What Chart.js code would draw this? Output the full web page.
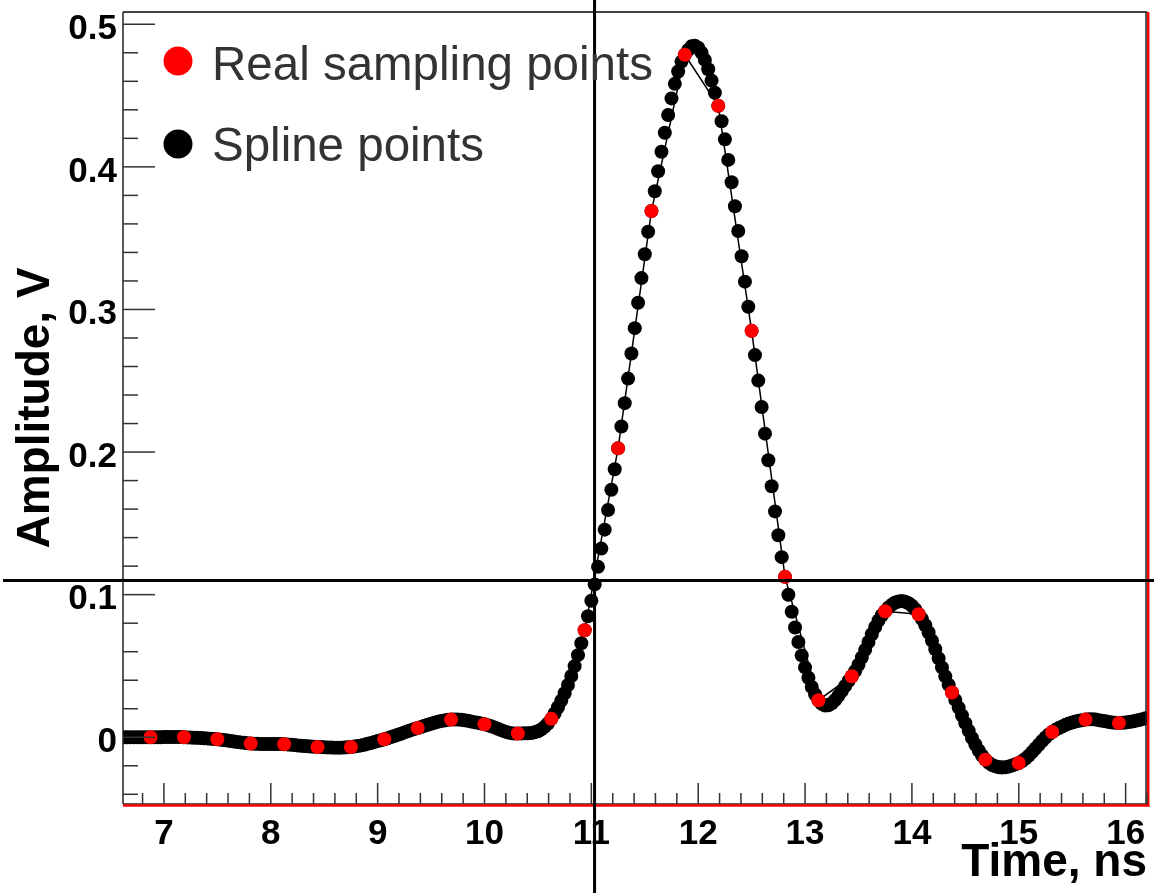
<!DOCTYPE html>
<html>
<head>
<meta charset="utf-8">
<script src="https://cdn.jsdelivr.net/npm/chart.js@4.4.7/dist/chart.umd.min.js"></script>
<style>
  html, body { margin: 0; padding: 0; background: #fff; }
  #wrap { width: 1154px; height: 893px; }
</style>
</head>
<body>
<div id="wrap"><canvas id="chart" width="1154" height="893"></canvas></div>
<script>
// real samples, 3.2 GS/s
const sampleTimes = [
  6.875, 7.1875, 7.5, 7.8125, 8.125, 8.4375, 8.75, 9.0625, 9.375, 9.6875,
  10.0, 10.3125, 10.625, 10.9375, 11.25, 11.5625, 11.875, 12.1875, 12.5, 12.8125,
  13.125, 13.4375, 13.75, 14.0625, 14.375, 14.6875, 15.0, 15.3125, 15.625, 15.9375
];
const sampleAmps = [
  0.0000, 0.0000, -0.0014, -0.0044, -0.0049, -0.0068, -0.0068, -0.0014, 0.0065, 0.0124,
  0.0091, 0.0026, 0.0129, 0.0750, 0.2026, 0.3690, 0.4786, 0.4428, 0.2850, 0.1125,
  0.0260, 0.0428, 0.0884, 0.0863, 0.0314, -0.0157, -0.0180, 0.0037, 0.0124, 0.0100
];

// spline points, one every 0.03125 ns starting at 6.625 ns
const splineStart = 6.625;
const splineStep = 0.03125;
const splineAmps = [
  0, 0, 0, 0, 0, 0, 0, 0,
  0, 0, 0, 0, 0.0001, 0.0001, 0.0001, 0.0001, 0.0001, 0.0001,
  0, -0.0001, -0.0002, -0.0003, -0.0004, -0.0005, -0.0007, -0.0008, -0.0010, -0.0012,
  -0.0014, -0.0017, -0.0019, -0.0023, -0.0026, -0.0030, -0.0033, -0.0036, -0.0039, -0.0042,
  -0.0044, -0.0046, -0.0046, -0.0047, -0.0047, -0.0047, -0.0047, -0.0047, -0.0048, -0.0048,
  -0.0049, -0.0050, -0.0052, -0.0054, -0.0057, -0.0059, -0.0061, -0.0063, -0.0065, -0.0067,
  -0.0068, -0.0069, -0.0070, -0.0071, -0.0072, -0.0073, -0.0073, -0.0073, -0.0072, -0.0070,
  -0.0068, -0.0065, -0.0061, -0.0057, -0.0052, -0.0046, -0.0040, -0.0034, -0.0027, -0.0021,
  -0.0014, -0.0007, 0.0001, 0.0009, 0.0017, 0.0025, 0.0034, 0.0042, 0.0050, 0.0058,
  0.0065, 0.0072, 0.0080, 0.0087, 0.0095, 0.0102, 0.0108, 0.0114, 0.0118, 0.0122,
  0.0124, 0.0125, 0.0124, 0.0122, 0.0119, 0.0115, 0.0111, 0.0106, 0.0101, 0.0096,
  0.0091, 0.0085, 0.0077, 0.0069, 0.0059, 0.0050, 0.0041, 0.0034, 0.0029, 0.0026,
  0.0026, 0.0027, 0.0028, 0.0028, 0.0030, 0.0035, 0.0042, 0.0055, 0.0073, 0.0097,
  0.0129, 0.0167, 0.0210, 0.0257, 0.0309, 0.0366, 0.0430, 0.0499, 0.0576, 0.0659,
  0.0750, 0.0849, 0.0957, 0.1072, 0.1195, 0.1323, 0.1456, 0.1594, 0.1736, 0.1880,
  0.2026, 0.2179, 0.2343, 0.2515, 0.2691, 0.2869, 0.3047, 0.3220, 0.3387, 0.3545,
  0.3690, 0.3829, 0.3969, 0.4106, 0.4239, 0.4364, 0.4480, 0.4582, 0.4669, 0.4738,
  0.4786, 0.4820, 0.4845, 0.4850, 0.4835, 0.4800, 0.4750, 0.4685, 0.4605, 0.4520,
  0.4428, 0.4320, 0.4193, 0.4049, 0.3892, 0.3724, 0.3550, 0.3373, 0.3195, 0.3019,
  0.2850, 0.2680, 0.2501, 0.2316, 0.2129, 0.1943, 0.1760, 0.1584, 0.1417, 0.1263,
  0.1125, 0.0999, 0.0880, 0.0770, 0.0668, 0.0574, 0.0490, 0.0417, 0.0353, 0.0301,
  0.0260, 0.0234, 0.0223, 0.0225, 0.0239, 0.0261, 0.0291, 0.0324, 0.0359, 0.0395,
  0.0428, 0.0464, 0.0508, 0.0559, 0.0613, 0.0668, 0.0722, 0.0773, 0.0819, 0.0856,
  0.0884, 0.0910, 0.0930, 0.0945, 0.0952, 0.0955, 0.0950, 0.0940, 0.0922, 0.0897,
  0.0863, 0.0829, 0.0786, 0.0735, 0.0678, 0.0617, 0.0553, 0.0490, 0.0427, 0.0368,
  0.0314, 0.0262, 0.0208, 0.0153, 0.0099, 0.0046, -0.0005, -0.0051, -0.0093, -0.0128,
  -0.0157, -0.0179, -0.0194, -0.0204, -0.0210, -0.0212, -0.0210, -0.0205, -0.0198, -0.0189,
  -0.0180, -0.0167, -0.0150, -0.0129, -0.0104, -0.0078, -0.0052, -0.0026, -0.0002, 0.0020,
  0.0037, 0.0052, 0.0065, 0.0076, 0.0087, 0.0096, 0.0103, 0.0110, 0.0116, 0.0120,
  0.0124, 0.0126, 0.0126, 0.0124, 0.0120, 0.0116, 0.0112, 0.0107, 0.0104, 0.0101,
  0.0100, 0.0101, 0.0103, 0.0107, 0.0111, 0.0116, 0.0121, 0.0127, 0.0133
];

const seriesNames = ['Real sampling points', 'Spline points'];
const xTicks = [7, 8, 9, 10, 11, 12, 13, 14, 15, 16];
const yTicks = [0, 0.1, 0.2, 0.3, 0.4, 0.5];
const xRange = [6.617, 16.2];
const yRange = [-0.0468, 0.5086];
// threshold crosshair
const thresholdTime = 11.03;
const thresholdAmp = 0.11;

Chart.defaults.font.family = '"Liberation Sans", Arial, sans-serif';

const tickFont = { size: 35, weight: 'bold' };
const titleFont = { size: 46, weight: 'bold' };

// inner ticks, frame, crosshair and legend drawn ROOT-style
const decor = {
  id: 'decor',
  afterDraw(chart) {
    const { ctx, chartArea: a, scales: { x, y } } = chart;
    const line = (x1, y1, x2, y2) => {
      ctx.beginPath(); ctx.moveTo(x1, y1); ctx.lineTo(x2, y2); ctx.stroke();
    };
    ctx.save();

    // frame
    ctx.strokeStyle = '#444'; ctx.lineWidth = 2;
    line(a.left, a.top, a.right, a.top);
    ctx.strokeStyle = '#222'; ctx.lineWidth = 1.5;
    line(a.left, a.top, a.left, a.bottom);
    line(a.right - 1, a.top, a.right - 1, a.bottom);
    line(a.left, a.bottom, a.right, a.bottom);
    ctx.strokeStyle = '#ff0000'; ctx.lineWidth = 2.5;
    line(a.left, a.bottom + 1.5, a.right + 2.5, a.bottom + 1.5);
    line(a.right + 1.2, a.top, a.right + 1.2, a.bottom + 2.5);

    // ticks, pointing inward
    ctx.strokeStyle = '#333'; ctx.lineWidth = 1.5;
    for (let i = Math.ceil(x.min * 5); i <= Math.floor(x.max * 5); i++) {
      const px = x.getPixelForValue(i / 5);
      line(px, a.bottom, px, a.bottom - (i % 5 === 0 ? 21 : 11));
    }
    for (let i = Math.ceil(y.min * 50); i <= Math.floor(y.max * 50); i++) {
      const py = y.getPixelForValue(i / 50);
      line(a.left, py, a.left + (i % 5 === 0 ? 32 : 15), py);
    }

    // crosshair
    ctx.strokeStyle = '#000'; ctx.lineWidth = 3;
    const cx = x.getPixelForValue(thresholdTime);
    const cy = y.getPixelForValue(thresholdAmp);
    line(cx, 0, cx, chart.height);
    line(3, cy, chart.width, cy);

    // legend
    ctx.font = '47.5px "Liberation Sans", Arial, sans-serif';
    ctx.textBaseline = 'alphabetic';
    chart.data.datasets.forEach((ds, i) => {
      ctx.fillStyle = ds.pointBackgroundColor;
      ctx.beginPath();
      ctx.arc(178, 61 + i * 83, 14.5, 0, Math.PI * 2);
      ctx.fill();
      ctx.fillStyle = '#333';
      ctx.fillText(ds.label, 212, 80 + i * 81);
    });
    ctx.restore();
  }
};

new Chart(document.getElementById('chart'), {
  type: 'scatter',
  data: {
    datasets: [
      {
        label: seriesNames[0],
        data: sampleTimes.map((t, i) => ({ x: t, y: sampleAmps[i] })),
        showLine: true,
        tension: 0,
        borderColor: '#000',
        borderWidth: 1.5,
        pointRadius: 7,
        pointBorderWidth: 0,
        pointBackgroundColor: '#ff0000'
      },
      {
        label: seriesNames[1],
        data: splineAmps.map((v, i) => ({ x: splineStart + i * splineStep, y: v })),
        showLine: false,
        pointRadius: 7,
        pointBorderWidth: 0,
        pointBackgroundColor: '#000000'
      }
    ]
  },
  options: {
    responsive: false,
    devicePixelRatio: 1,
    animation: false,
    layout: { padding: { top: 12, right: 6, left: 0, bottom: 0 } },
    plugins: { legend: { display: false }, tooltip: { enabled: false } },
    scales: {
      x: {
        type: 'linear',
        min: xRange[0],
        max: xRange[1],
        grid: { display: false, drawTicks: false },
        border: { display: false },
        afterBuildTicks: s => { s.ticks = xTicks.map(v => ({ value: v })); },
        afterFit: s => { s.height = 89; s.paddingLeft = 0; s.paddingRight = 0; },
        ticks: { color: '#000', font: tickFont, padding: 9, maxRotation: 0, autoSkip: false,
                 callback: v => String(v) },
        title: { display: true, text: 'Time, ns', align: 'end', color: '#000', font: titleFont,
                 padding: { top: 0, bottom: 2 } }
      },
      y: {
        type: 'linear',
        min: yRange[0],
        max: yRange[1],
        grid: { display: false, drawTicks: false },
        border: { display: false },
        afterBuildTicks: s => { s.ticks = yTicks.map(v => ({ value: v })); },
        afterFit: s => { s.width = 123; s.paddingTop = 0; s.paddingBottom = 0; },
        ticks: { color: '#000', font: tickFont, padding: 6, labelOffset: 5, autoSkip: false,
                 callback: v => (v === 0 ? '0' : v.toFixed(1)) },
        title: { display: true, text: 'Amplitude, V', color: '#000', font: titleFont,
                 padding: { top: 9, bottom: 0 } }
      }
    }
  },
  plugins: [decor]
});
</script>
</body>
</html>
